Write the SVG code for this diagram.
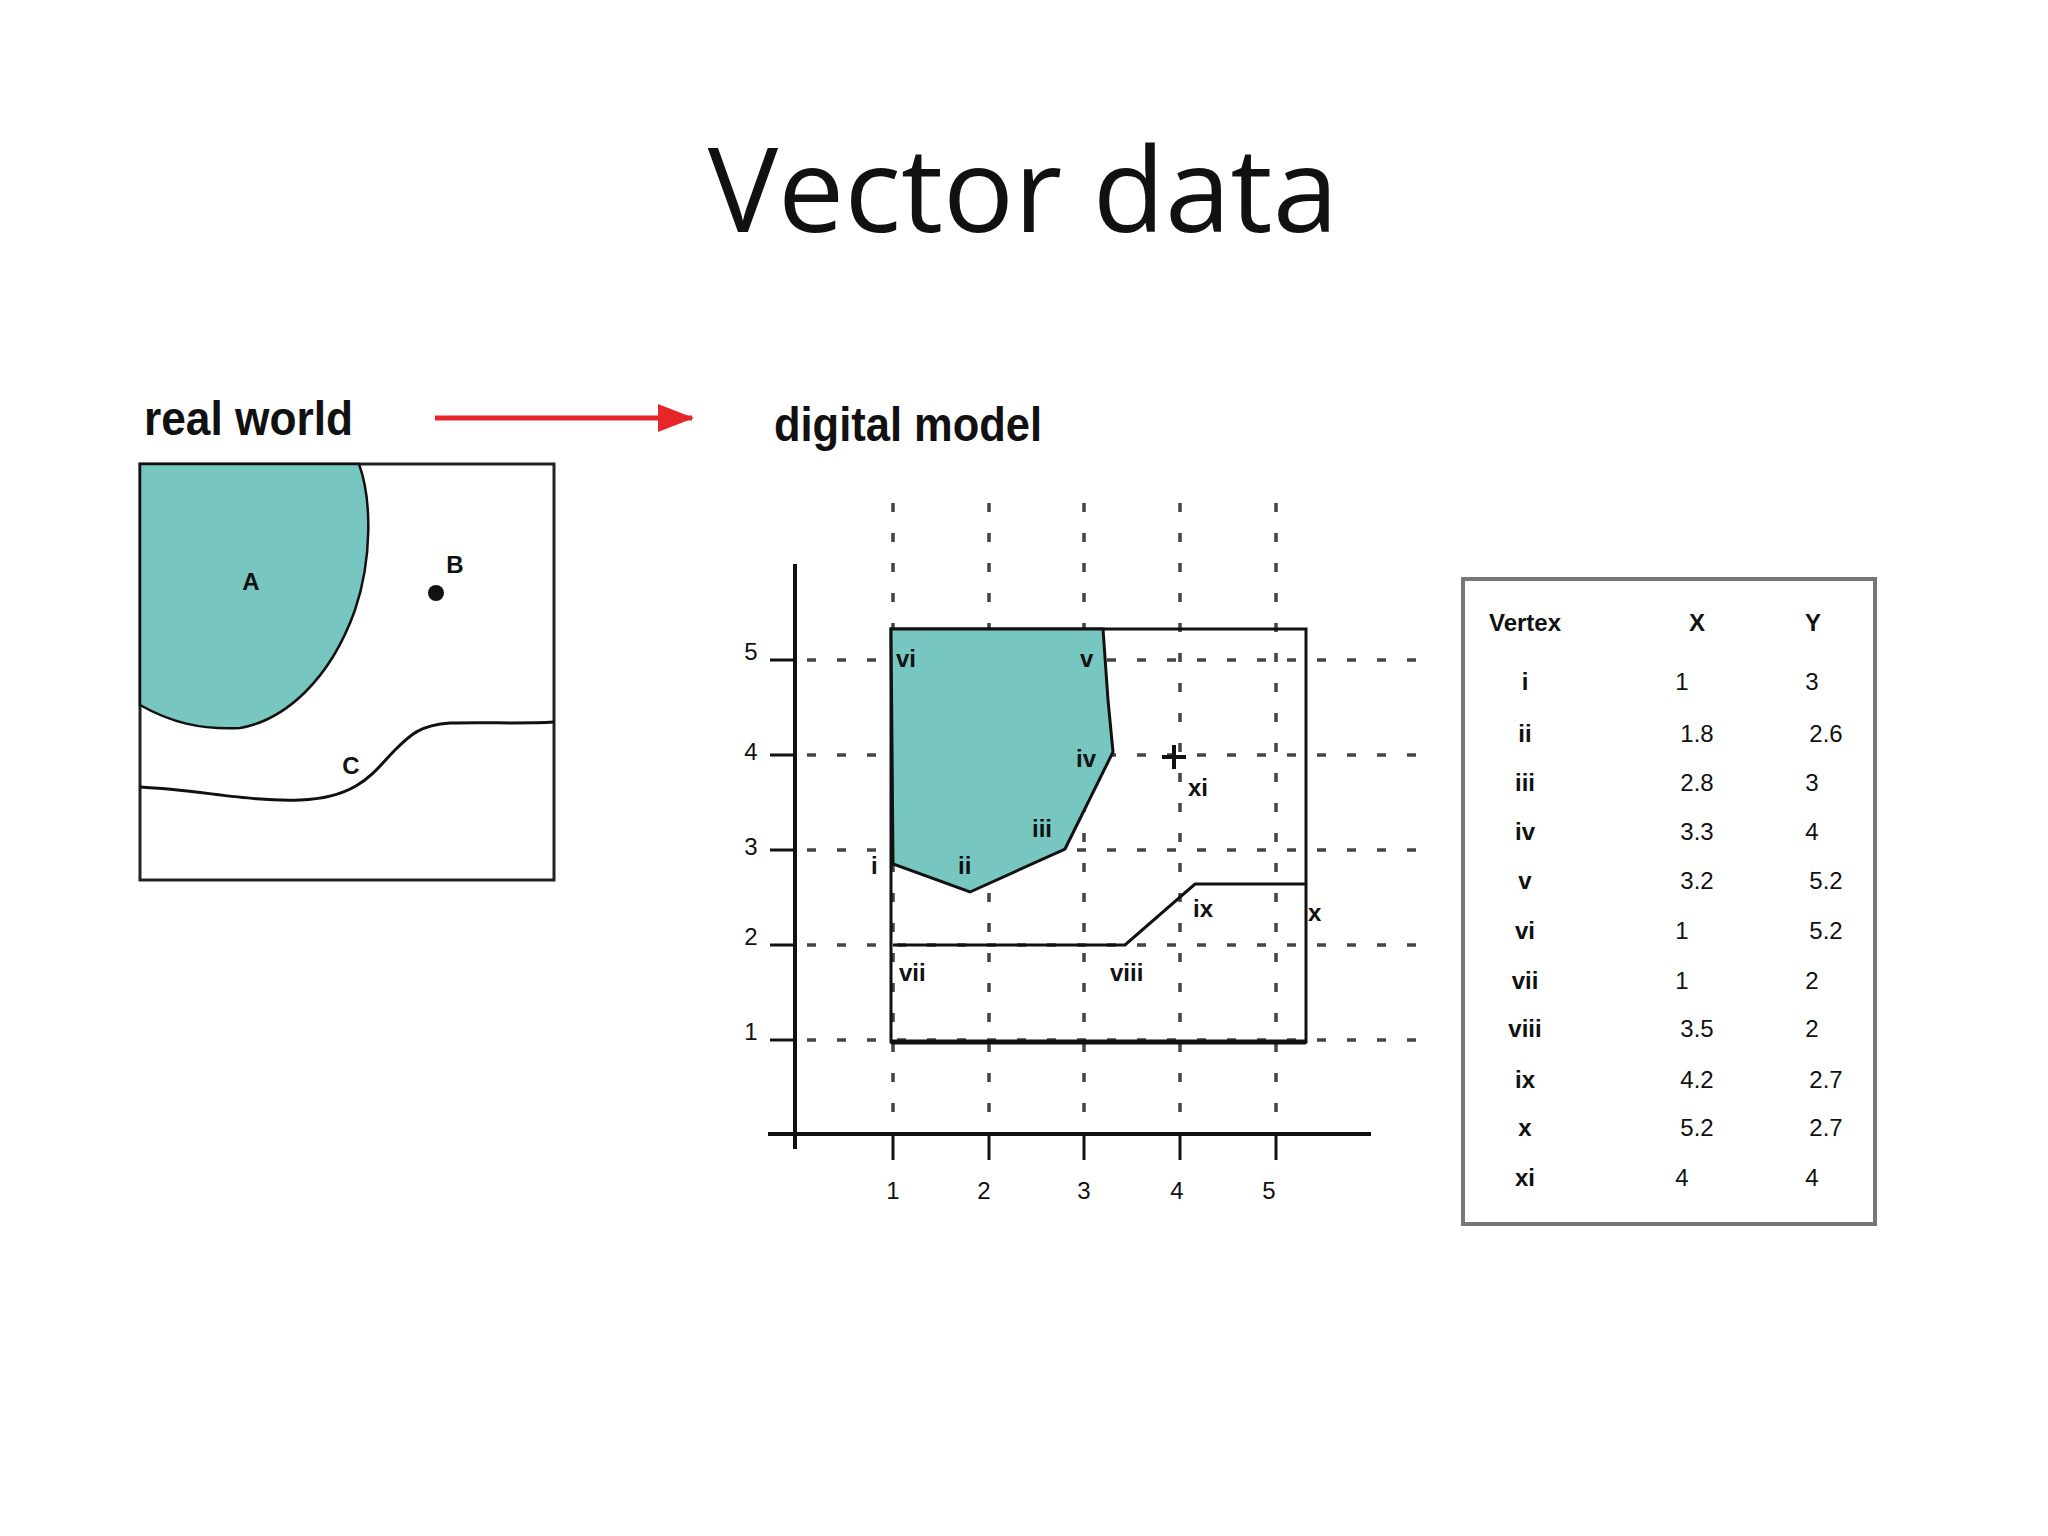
<svg xmlns="http://www.w3.org/2000/svg" width="2048" height="1536" viewBox="0 0 2048 1536">
<style>
.t{font-family:"Liberation Sans",Arial,sans-serif;fill:#111}
.h{font-weight:bold;font-size:48px}
.s{font-size:24px}
.b{font-size:24px;font-weight:bold}
.grid{stroke:#444;stroke-width:3.5;stroke-dasharray:9 21;fill:none}
.ln{stroke:#111;fill:none;stroke-width:3}
</style>
<defs><marker id="ar" markerWidth="10" markerHeight="10" refX="9" refY="5" orient="auto" markerUnits="userSpaceOnUse"><path d="M0 0L10 5L0 10z" fill="#e8262a" transform="scale(1)"/></marker>
<marker id="ar2" markerWidth="36" markerHeight="28" refX="34" refY="14" orient="auto" markerUnits="userSpaceOnUse"><path d="M0 0L36 14L0 28z" fill="#e8262a"/></marker></defs>
<rect width="2048" height="1536" fill="#fff"/>
<text class="t" x="1023" y="232" font-size="118" text-anchor="middle" style="font-family:'Open Sans','Liberation Sans',sans-serif">Vector data</text>
<g id="realworld">
<text class="t h" x="144" y="435" textLength="209" lengthAdjust="spacingAndGlyphs">real world</text>
<rect x="140" y="464" width="414" height="416" fill="#fff" stroke="#222" stroke-width="3"/>
<path d="M140 464H359C372 500 372 560 355 610C330 680 285 720 240 728C200 730 170 722 140 705Z" fill="#78c6c0" stroke="#111" stroke-width="2.5"/>
<path d="M140 787C200 790 250 802 300 800C360 798 375 770 395 750C410 735 420 725 450 723C490 722 520 724 554 722" class="ln"/>
<text class="t b" x="251" y="590" text-anchor="middle">A</text>
<text class="t b" x="455" y="573" text-anchor="middle">B</text>
<circle cx="436" cy="593" r="8" fill="#111"/>
<text class="t b" x="351" y="774" text-anchor="middle">C</text>
</g>
<g id="arrow"><line x1="435" y1="418" x2="692" y2="418" stroke="#e8262a" stroke-width="5" marker-end="url(#ar2)"/></g>
<g id="digital">
<text class="t h" x="774" y="441" textLength="268" lengthAdjust="spacingAndGlyphs">digital model</text>
<path class="grid" d="M893 503V1117M989 503V1117M1084 503V1117M1180 503V1117M1276 503V1117"/>
<path class="grid" d="M807 660H1424M807 755H1424M807 850H1424M807 945H1424M807 1040H1424"/>
<rect x="891" y="629" width="415" height="413" fill="none" stroke="#111" stroke-width="3"/>
<line x1="891" y1="1042" x2="1306" y2="1042" stroke="#111" stroke-width="5"/>
<path d="M891 629H1103L1108 700L1113 752L1065 849L970 892L893 864Z" fill="#78c6c0" stroke="#111" stroke-width="3"/>
<path d="M893 945H1125L1195 884H1306" class="ln"/>
<path d="M795 564V1149M768 1134H1371" stroke="#111" stroke-width="4" fill="none"/>
<path d="M770 660H795M770 755H795M770 850H795M770 945H795M770 1040H795M893 1134V1160M989 1134V1160M1084 1134V1160M1180 1134V1160M1276 1134V1160" stroke="#111" stroke-width="3"/>
<path d="M1162 757H1186M1174 745V769" stroke="#111" stroke-width="4"/>
<g class="t s" text-anchor="middle">
<text x="751" y="660">5</text><text x="751" y="760">4</text><text x="751" y="855">3</text><text x="751" y="945">2</text><text x="751" y="1040">1</text>
<text x="893" y="1199">1</text><text x="984" y="1199">2</text><text x="1084" y="1199">3</text><text x="1177" y="1199">4</text><text x="1269" y="1199">5</text>
</g>
<g class="t s" font-weight="bold">
<text x="896" y="667">vi</text><text x="1080" y="667">v</text><text x="1076" y="767">iv</text><text x="1032" y="837">iii</text>
<text x="958" y="874">ii</text><text x="871" y="874">i</text><text x="899" y="981">vii</text><text x="1110" y="981">viii</text>
<text x="1193" y="917">ix</text><text x="1308" y="921">x</text><text x="1188" y="796">xi</text>
</g>
</g>
<g id="table">
<rect x="1463" y="579" width="412" height="645" fill="#fff" stroke="#777" stroke-width="4"/>
<g class="t s" text-anchor="middle" font-weight="bold">
<text x="1525" y="631">Vertex</text><text x="1697" y="631">X</text><text x="1813" y="631">Y</text>
</g>
<g class="t s" text-anchor="middle">
<text x="1525" y="690" font-weight="bold">i</text><text x="1682" y="690">1</text><text x="1812" y="690">3</text>
<text x="1525" y="742" font-weight="bold">ii</text><text x="1697" y="742">1.8</text><text x="1826" y="742">2.6</text>
<text x="1525" y="791" font-weight="bold">iii</text><text x="1697" y="791">2.8</text><text x="1812" y="791">3</text>
<text x="1525" y="840" font-weight="bold">iv</text><text x="1697" y="840">3.3</text><text x="1812" y="840">4</text>
<text x="1525" y="889" font-weight="bold">v</text><text x="1697" y="889">3.2</text><text x="1826" y="889">5.2</text>
<text x="1525" y="939" font-weight="bold">vi</text><text x="1682" y="939">1</text><text x="1826" y="939">5.2</text>
<text x="1525" y="989" font-weight="bold">vii</text><text x="1682" y="989">1</text><text x="1812" y="989">2</text>
<text x="1525" y="1037" font-weight="bold">viii</text><text x="1697" y="1037">3.5</text><text x="1812" y="1037">2</text>
<text x="1525" y="1088" font-weight="bold">ix</text><text x="1697" y="1088">4.2</text><text x="1826" y="1088">2.7</text>
<text x="1525" y="1136" font-weight="bold">x</text><text x="1697" y="1136">5.2</text><text x="1826" y="1136">2.7</text>
<text x="1525" y="1186" font-weight="bold">xi</text><text x="1682" y="1186">4</text><text x="1812" y="1186">4</text>
</g>
</g>
</svg>
